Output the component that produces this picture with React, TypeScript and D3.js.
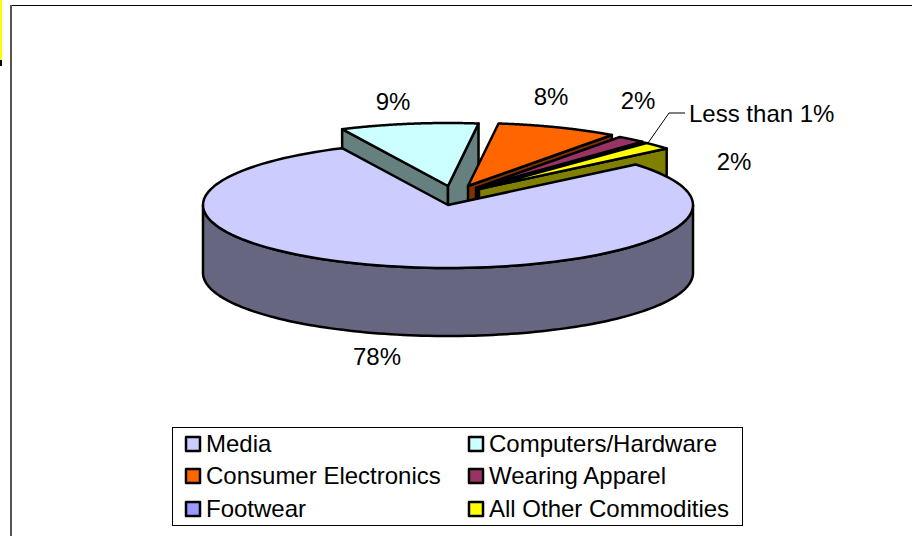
// @ts-nocheck
import React from "react";
import * as d3 from "d3";

const categories = ["Media", "Computers/Hardware", "Consumer Electronics", "Wearing Apparel", "Footwear", "All Other Commodities"];
// shares as drawn (the printed labels are rounded differently)
const shares = [79, 9.1, 8, 1.9, 0.1, 1.9];
const topColors = ["#CCCCFF", "#CCFFFF", "#FF6600", "#993366", "#9999FF", "#FFFF00"];
const wallColors = ["#666680", "#668080", "#803300", "#4D1A33", "#4D4D80", "#808000"];
const valueLabels = ["78%", "9%", "8%", "2%", "Less than 1%", "2%"];

const W = 912;
const H = 536;
const cx = 448;
const cy = 205;
const rx = 245;
const ry = 63;
const depth = 68;
const font = "'Liberation Sans', Arial, sans-serif";

// how far each wedge is pulled out of the pie
const pull = [[0, 0], [0, -19], [20, -19], [28, -17], [30, -16], [31, -16]];
const labelPos = [[377, 365], [393, 110], [551, 105], [638, 109], [689, 122], [734, 170]];

const arcs = d3
  .pie()
  .sort(null)
  .value(d => d)
  .startAngle((50 * Math.PI) / 180)
  .endAngle((410 * Math.PI) / 180)(shares);

const line = d3.line();

const pt = (a, i, dy = 0) => [
  cx + pull[i][0] + rx * Math.sin(a),
  cy + pull[i][1] - ry * Math.cos(a) + dy,
];
const rim = (a0, a1, i, dy = 0) =>
  d3.range(0, 121).map(k => pt(a0 + ((a1 - a0) * k) / 120, i, dy));
const hub = (i, dy = 0) => [cx + pull[i][0], cy + pull[i][1] + dy];

const stroke = { stroke: "#000", strokeWidth: 2.5, strokeLinejoin: "round" };

const Wedge = ({ i }) => {
  const { startAngle: a0, endAngle: a1 } = arcs[i];
  const norm = Math.atan2(Math.sin(a0), Math.cos(a0));
  const top = line([hub(i), ...rim(a0, a1, i)]) + "Z";
  // media shows its front rim, the others only their cut faces
  const walls = [];
  if (i === 0) {
    const front = rim(Math.PI / 2, (3 * Math.PI) / 2, i);
    const below = rim((3 * Math.PI) / 2, Math.PI / 2, i, depth);
    walls.push(line([...front, ...below]) + "Z");
  } else {
    if (norm < 0) walls.push(line([hub(i), pt(a0, i), pt(a0, i, depth), hub(i, depth)]) + "Z");
    walls.push(line([hub(i), pt(a1, i), pt(a1, i, depth), hub(i, depth)]) + "Z");
  }
  return (
    <g>
      {walls.map((d, k) => (
        <path key={k} d={d} fill={wallColors[i]} {...stroke} />
      ))}
      <path d={top} fill={topColors[i]} {...stroke} />
    </g>
  );
};

const legendX = d3.scaleOrdinal().domain([0, 1]).range([186, 469]);
const legendY = d3.scaleOrdinal().domain([0, 1, 2]).range([437, 469, 502]);

export default function App() {
  return (
    <svg width={W} height={H} style={{ position: "absolute", left: 0, top: 0, background: "#fff" }}>
      <rect x={0} y={0} width={2} height={60} fill="#FFFF00" />
      <rect x={0} y={60} width={2} height={6} fill="#000" />
      <line x1={10} y1={5.5} x2={W} y2={5.5} stroke="#000" />
      <line x1={11} y1={5} x2={11} y2={H} stroke="#555" strokeWidth={2} />

      {[1, 2, 3, 4, 5, 0].map(i => (
        <Wedge key={i} i={i} />
      ))}

      <polyline points="685,113 669,113 648,143" fill="none" stroke="#000" strokeWidth={1} />

      {valueLabels.map((t, i) => (
        <text
          key={t + i}
          x={labelPos[i][0]}
          y={labelPos[i][1]}
          fontFamily={font}
          fontSize={24}
          textAnchor={i === 4 ? "start" : "middle"}
        >
          {t}
        </text>
      ))}

      <rect x={172.5} y={427.5} width={570} height={98} fill="#fff" stroke="#000" />
      {categories.map((c, i) => {
        const x = legendX(i % 2);
        const y = legendY(Math.floor(i / 2));
        return (
          <g key={c}>
            <rect x={x} y={y} width={14} height={14} fill={topColors[i]} {...stroke} />
            <text x={x + 20} y={y + 15} fontFamily={font} fontSize={24}>
              {c}
            </text>
          </g>
        );
      })}
    </svg>
  );
}
